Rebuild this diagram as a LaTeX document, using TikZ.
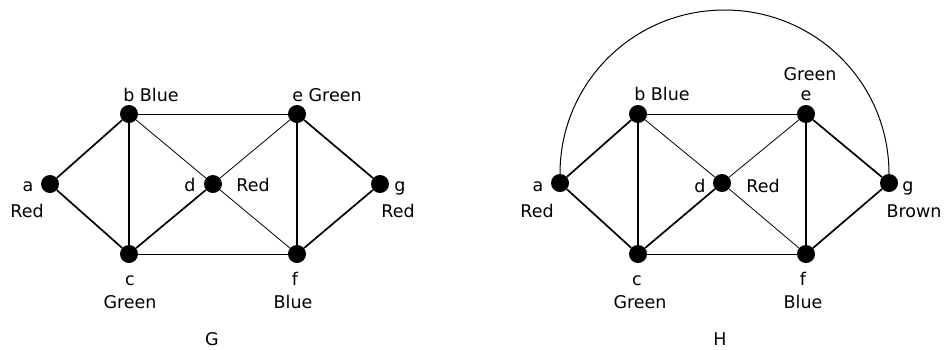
\documentclass[tikz,border=0pt]{standalone}
\usepackage{fontspec}
\setmainfont{DejaVu Sans}
\begin{document}
\begin{tikzpicture}[x=1pt,y=-1pt,
  vert/.style={circle,fill=black,inner sep=0pt,minimum size=18pt},
  lbl/.style={anchor=base,inner sep=0pt,font=\fontsize{17.5}{20}\selectfont},
  thk/.style={line width=1.7pt},
  thn/.style={line width=0.8pt}]
\useasboundingbox (0,0) rectangle (947,349);
% Graph G
\node[vert] (a) at (50,184) {};
\node[vert] (b) at (129,114) {};
\node[vert] (c) at (129,254) {};
\node[vert] (d) at (213,184) {};
\node[vert] (e) at (297,114) {};
\node[vert] (f) at (297,254) {};
\node[vert] (g) at (380,184) {};
\draw[thk] (a) -- (b);
\draw[thk] (a) -- (c);
\draw[thk] (b) -- (c);
\draw[thn] (b) -- (e);
\draw[thn] (b) -- (d);
\draw[thk] (c) -- (d);
\draw[thn] (c) -- (f);
\draw[thn] (d) -- (e);
\draw[thn] (d) -- (f);
\draw[thk] (e) -- (f);
\draw[thk] (e) -- (g);
\draw[thk] (f) -- (g);
\node[lbl] (lb) at (151,101) {b Blue};
\node[lbl] (le) at (327,101) {e Green};
\node[lbl] (la) at (28,191) {a};
\node[lbl] (lar) at (27,217) {Red};
\node[lbl] (ld) at (190,191) {d};
\node[lbl] (ldr) at (253,191) {Red};
\node[lbl] (lg) at (400,191) {g};
\node[lbl] (lgr) at (398,217) {Red};
\node[lbl] (lc) at (130,285) {c};
\node[lbl] (lcg) at (130,308) {Green};
\node[lbl] (lf) at (295,285) {f};
\node[lbl] (lfb) at (293,308) {Blue};
\node[lbl] (tG) at (212,345) {G};
% Graph H
\node[vert] (ha) at (560,183) {};
\node[vert] (hb) at (638,114) {};
\node[vert] (hc) at (638,254) {};
\node[vert] (hd) at (722,183) {};
\node[vert] (he) at (806,114) {};
\node[vert] (hf) at (806,254) {};
\node[vert] (hg) at (889,183) {};
\coordinate (htop) at (724.5,10);
\draw[thk] (ha) -- (hb);
\draw[thk] (ha) -- (hc);
\draw[thk] (hb) -- (hc);
\draw[thn] (hb) -- (he);
\draw[thn] (hb) -- (hd);
\draw[thk] (hc) -- (hd);
\draw[thn] (hc) -- (hf);
\draw[thn] (hd) -- (he);
\draw[thn] (hd) -- (hf);
\draw[thk] (he) -- (hf);
\draw[thk] (he) -- (hg);
\draw[thk] (hf) -- (hg);
\draw[line width=1pt] (ha.north) .. controls +(0,-91) and +(-91,0) .. (htop)
  .. controls +(91,0) and +(0,-91) .. (hg.north);
\node[lbl] (hlb) at (662,100) {b Blue};
\node[lbl] (hleg) at (810,80) {Green};
\node[lbl] (hle) at (806,100) {e};
\node[lbl] (hla) at (538,191) {a};
\node[lbl] (hlar) at (537,217) {Red};
\node[lbl] (hld) at (700,192) {d};
\node[lbl] (hldr) at (763,192) {Red};
\node[lbl] (hlg) at (908,191) {g};
\node[lbl] (hlgb) at (914,217) {Brown};
\node[lbl] (hlc) at (637,285) {c};
\node[lbl] (hlcg) at (640,308) {Green};
\node[lbl] (hlf) at (803,285) {f};
\node[lbl] (hlfb) at (803,308) {Blue};
\node[lbl] (tH) at (720,345) {H};
\end{tikzpicture}
\end{document}
